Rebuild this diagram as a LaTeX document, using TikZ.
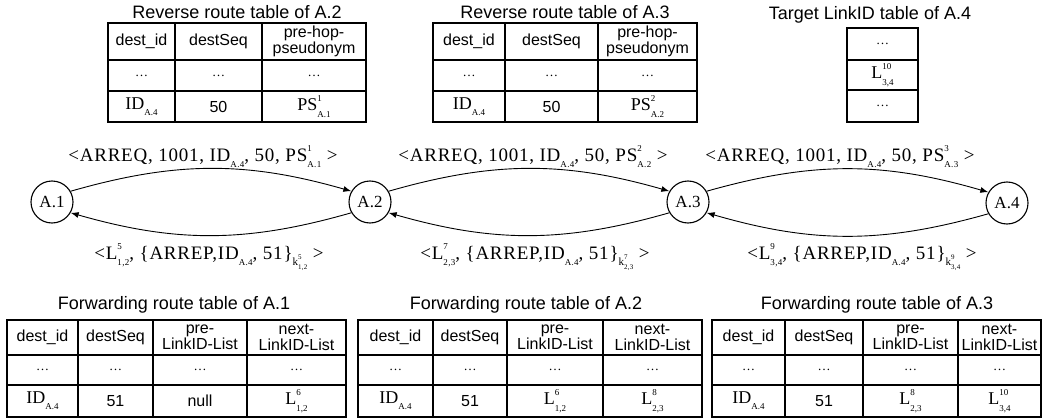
\documentclass[tikz,border=0pt]{standalone}
\usepackage{fontspec}
\setmainfont{Liberation Serif}
\setsansfont{Liberation Sans}
\newfontfamily\msgfont[LetterSpace=4]{Liberation Serif}
\usetikzlibrary{arrows.meta}
\newcommand{\ssb}[2]{\makebox[0pt][l]{\raisebox{0.52em}{\fontsize{9}{9}\selectfont #1}}\raisebox{-0.36em}{\fontsize{9}{9}\selectfont #2}}
\newcommand{\sbb}[1]{\raisebox{-0.32em}{\fontsize{9}{9}\selectfont #1}}
\newcommand{\IDA}{ID\sbb{A.4}}
\newcommand{\Lss}[2]{L\ssb{#1}{#2}}
\newcommand{\PSs}[2]{PS\ssb{#1}{#2}}
\newcommand{\kss}[2]{\raisebox{-0.35em}{\fontsize{11}{11}\selectfont k\makebox[0pt][l]{\raisebox{0.6em}{\fontsize{7}{7}\selectfont #1}}\raisebox{-0.35em}{\fontsize{7}{7}\selectfont #2}}}
\newcommand{\dd}{{\rmfamily\fontsize{13}{13}\selectfont\ldots}}
\newcommand{\cellbox}[7]{\node[#6, minimum width={(#4-#2)*1pt}, minimum height={(#5-#3)*1pt}] (#1) at ({(#2+#4)/2},{(#3+#5)/2}) {#7};}
\tikzset{
  cell/.style={draw, line width=1.1pt, inner sep=0pt, align=center, font=\sffamily\fontsize{16}{16}\selectfont},
  tcell/.style={cell, font=\rmfamily\fontsize{18}{18}\selectfont},
  ttl/.style={font=\sffamily\fontsize{18}{18}\selectfont, inner sep=0pt},
  nd/.style={circle, draw, line width=1.1pt, minimum size=42pt, inner sep=0pt, font=\rmfamily\fontsize{17}{17}\selectfont},
  msg/.style={font=\msgfont\fontsize{19}{19}\selectfont, inner sep=0pt, anchor=base},
  arr/.style={-{Latex[length=8pt,width=6pt]}, line width=0.9pt},
}
\begin{document}
\begin{tikzpicture}[x=1pt,y=-1pt]
\useasboundingbox (0,0) rectangle (1045,420);
% ---- Reverse route table of A.2
\node[ttl] (rt1) at (237,12) {Reverse route table of A.2};
\cellbox{ra1}{108}{23}{175}{60}{cell}{dest\_id}
\cellbox{ra2}{175}{23}{262}{60}{cell}{destSeq}
\cellbox{ra3}{262}{23}{366}{60}{cell}{pre-hop-\\pseudonym}
\cellbox{rb1}{108}{60}{175}{91}{cell}{\dd}
\cellbox{rb2}{175}{60}{262}{91}{cell}{\dd}
\cellbox{rb3}{262}{60}{366}{91}{cell}{\dd}
\cellbox{rc1}{108}{91}{175}{122}{tcell}{\IDA}
\cellbox{rc2}{175}{91}{262}{122}{cell}{50}
\cellbox{rc3}{262}{91}{366}{122}{tcell}{\PSs{1}{A.1}}
% ---- Reverse route table of A.3
\node[ttl] (rt2) at (565,12) {Reverse route table of A.3};
\cellbox{sa1}{433}{23}{505}{60}{cell}{dest\_id}
\cellbox{sa2}{505}{23}{598}{60}{cell}{destSeq}
\cellbox{sa3}{598}{23}{697}{60}{cell}{pre-hop-\\pseudonym}
\cellbox{sb1}{433}{60}{505}{91}{cell}{\dd}
\cellbox{sb2}{505}{60}{598}{91}{cell}{\dd}
\cellbox{sb3}{598}{60}{697}{91}{cell}{\dd}
\cellbox{sc1}{433}{91}{505}{122}{tcell}{\IDA}
\cellbox{sc2}{505}{91}{598}{122}{cell}{50}
\cellbox{sc3}{598}{91}{697}{122}{tcell}{\PSs{2}{A.2}}
% ---- Target LinkID table of A.4
\node[ttl] (tt) at (870,15) {Target LinkID table of A.4};
\cellbox{ta}{847}{28}{918}{60}{cell}{\dd}
\cellbox{tb}{847}{60}{918}{90}{tcell}{\Lss{10}{3,4}}
\cellbox{tc}{847}{90}{918}{122}{cell}{\dd}
% ---- nodes
\node[nd] (A1) at (52,202) {A.1};
\node[nd] (A2) at (370,202) {A.2};
\node[nd] (A3) at (688,202) {A.3};
\node[nd] (A4) at (1007,203) {A.4};
\draw[arr] (A1.30) to[bend left=16] (A2.150);
\draw[arr] (A2.30) to[bend left=16] (A3.150);
\draw[arr] (A3.30) to[bend left=16] (A4.150);
\draw[arr] (A2.210) to[bend left=16] (A1.330);
\draw[arr] (A3.210) to[bend left=16] (A2.330);
\draw[arr] (A4.210) to[bend left=16] (A3.330);
\node[msg] (q1) at (203,161) {<ARREQ, 1001, \IDA, 50, \PSs{1}{A.1} >};
\node[msg] (q2) at (533,161) {<ARREQ, 1001, \IDA, 50, \PSs{2}{A.2} >};
\node[msg] (q3) at (840,161) {<ARREQ, 1001, \IDA, 50, \PSs{3}{A.3} >};
\node[msg] (p1) at (209,259) {<\Lss{5}{1,2}, \{ARREP,\IDA, 51\}\kss{5}{1,2} >};
\node[msg] (p2) at (535,259) {<\Lss{7}{2,3}, \{ARREP,\IDA, 51\}\kss{7}{2,3} >};
\node[msg] (p3) at (862,259) {<\Lss{9}{3,4}, \{ARREP,\IDA, 51\}\kss{9}{3,4} >};
% ---- Forwarding route table of A.1
\node[ttl] (ft1) at (174,305) {Forwarding route table of A.1};
\cellbox{fa1}{7}{320}{78}{355}{cell}{dest\_id}
\cellbox{fa2}{78}{320}{153}{355}{cell}{destSeq}
\cellbox{fa3}{153}{320}{247}{355}{cell}{pre-\\LinkID-List}
\cellbox{fa4}{247}{320}{346}{355}{cell}{next-\\LinkID-List}
\cellbox{fb1}{7}{355}{78}{385}{cell}{\dd}
\cellbox{fb2}{78}{355}{153}{385}{cell}{\dd}
\cellbox{fb3}{153}{355}{247}{385}{cell}{\dd}
\cellbox{fb4}{247}{355}{346}{385}{cell}{\dd}
\cellbox{fc1}{7}{385}{78}{417}{tcell}{\IDA}
\cellbox{fc2}{78}{385}{153}{417}{cell}{51}
\cellbox{fc3}{153}{385}{247}{417}{cell}{null}
\cellbox{fc4}{247}{385}{346}{417}{tcell}{\Lss{6}{1,2}}
% ---- Forwarding route table of A.2
\node[ttl] (ft2) at (526,305) {Forwarding route table of A.2};
\cellbox{ga1}{358}{320}{433}{355}{cell}{dest\_id}
\cellbox{ga2}{433}{320}{507}{355}{cell}{destSeq}
\cellbox{ga3}{507}{320}{603}{355}{cell}{pre-\\LinkID-List}
\cellbox{ga4}{603}{320}{702}{355}{cell}{next-\\LinkID-List}
\cellbox{gb1}{358}{355}{433}{385}{cell}{\dd}
\cellbox{gb2}{433}{355}{507}{385}{cell}{\dd}
\cellbox{gb3}{507}{355}{603}{385}{cell}{\dd}
\cellbox{gb4}{603}{355}{702}{385}{cell}{\dd}
\cellbox{gc1}{358}{385}{433}{417}{tcell}{\IDA}
\cellbox{gc2}{433}{385}{507}{417}{cell}{51}
\cellbox{gc3}{507}{385}{603}{417}{tcell}{\Lss{6}{1,2}}
\cellbox{gc4}{603}{385}{702}{417}{tcell}{\Lss{8}{2,3}}
% ---- Forwarding route table of A.3
\node[ttl] (ft3) at (877,305) {Forwarding route table of A.3};
\cellbox{ha1}{712}{320}{785}{355}{cell}{dest\_id}
\cellbox{ha2}{785}{320}{863}{355}{cell}{destSeq}
\cellbox{ha3}{863}{320}{958}{355}{cell}{pre-\\LinkID-List}
\cellbox{ha4}{958}{320}{1041}{355}{cell}{next-\\LinkID-List}
\cellbox{hb1}{712}{355}{785}{385}{cell}{\dd}
\cellbox{hb2}{785}{355}{863}{385}{cell}{\dd}
\cellbox{hb3}{863}{355}{958}{385}{cell}{\dd}
\cellbox{hb4}{958}{355}{1041}{385}{cell}{\dd}
\cellbox{hc1}{712}{385}{785}{417}{tcell}{\IDA}
\cellbox{hc2}{785}{385}{863}{417}{cell}{51}
\cellbox{hc3}{863}{385}{958}{417}{tcell}{\Lss{8}{2,3}}
\cellbox{hc4}{958}{385}{1041}{417}{tcell}{\Lss{10}{3,4}}
\end{tikzpicture}
\end{document}
